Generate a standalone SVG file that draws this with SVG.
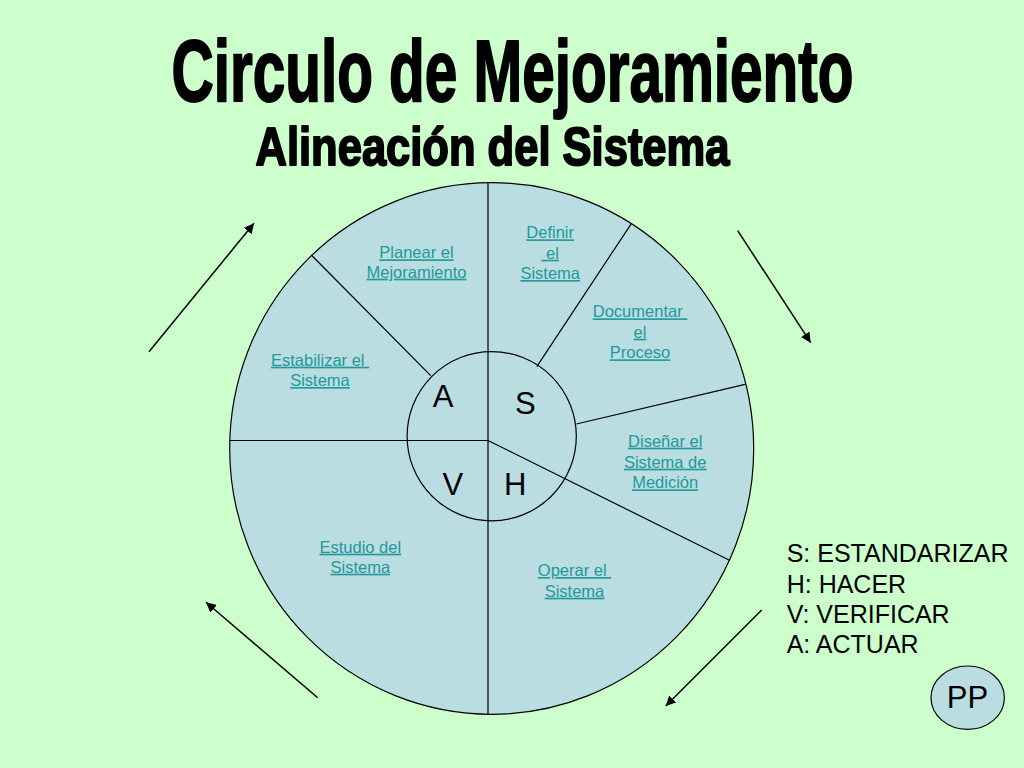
<svg xmlns="http://www.w3.org/2000/svg" width="1024" height="768" viewBox="0 0 1024 768">
<defs>
<marker id="ah" markerUnits="userSpaceOnUse" markerWidth="12" markerHeight="10" refX="10" refY="5" orient="auto">
<path d="M0,0 L10,5 L0,10 z" fill="#000"/>
</marker>
<style>
.ttl{font-family:"Liberation Sans",Arial,sans-serif;font-weight:bold;fill:#000;stroke:#000;stroke-width:2;stroke-linejoin:round}
.lbl{font-family:"Liberation Sans",Arial,sans-serif;font-size:16.5px;fill:#22999a;text-decoration:underline;text-anchor:middle}
.big{font-family:"Liberation Sans",Arial,sans-serif;font-size:31px;fill:#000;text-anchor:middle}
.leg{font-family:"Liberation Sans",Arial,sans-serif;font-size:25px;fill:#000}
.edge{stroke:#000;stroke-width:1.2;fill:none}
.arr{stroke:#000;stroke-width:1.5;fill:none;marker-end:url(#ah)}
</style>
</defs>
<rect width="1024" height="768" fill="#CCFFCC"/>
<g id="title">
<text class="ttl" transform="matrix(0.666 0 0 1 171.5 101)" x="0" y="0" font-size="88" textLength="1024" lengthAdjust="spacingAndGlyphs">Circulo de Mejoramiento</text>
<text class="ttl" transform="matrix(0.82 0 0 1 255.5 165)" x="0" y="0" font-size="53.5" textLength="578" lengthAdjust="spacingAndGlyphs">Alineación del Sistema</text>
</g>
<g id="wheel">
<ellipse cx="491.7" cy="448.5" rx="262" ry="265.8" fill="#B9DDE1" stroke="#000" stroke-width="1.2"/>
<line class="edge" x1="488" y1="182.7" x2="488" y2="714.3"/>
<line class="edge" x1="229.6" y1="440.5" x2="488" y2="440.5"/>
<line class="edge" x1="311.3" y1="255" x2="430.7" y2="375.7"/>
<line class="edge" x1="631.5" y1="223.3" x2="536.8" y2="366.7"/>
<line class="edge" x1="745.1" y1="384.3" x2="576.4" y2="424"/>
<line class="edge" x1="488" y1="440.5" x2="729" y2="560"/>
<circle cx="491.7" cy="436.2" r="84.6" fill="none" stroke="#000" stroke-width="1.2"/>
</g>
<g id="planear"><text class="lbl" x="416.5" y="258.3">Planear el</text><text class="lbl" x="416.5" y="277.7">Mejoramiento</text></g>
<g id="definir"><text class="lbl" x="550.2" y="238.3">Definir</text><text class="lbl" x="550.2" y="258.7" xml:space="preserve"> el</text><text class="lbl" x="550.2" y="279">Sistema</text></g>
<g id="documentar"><text class="lbl" x="640" y="317.3" xml:space="preserve">Documentar </text><text class="lbl" x="640" y="337.7">el</text><text class="lbl" x="640" y="358.3">Proceso</text></g>
<g id="estabilizar"><text class="lbl" x="320" y="365.7" xml:space="preserve">Estabilizar el </text><text class="lbl" x="320" y="386">Sistema</text></g>
<g id="disenar"><text class="lbl" x="665.2" y="446.7">Diseñar el</text><text class="lbl" x="665.2" y="467.7">Sistema de</text><text class="lbl" x="665.2" y="488.3">Medición</text></g>
<g id="estudio"><text class="lbl" x="360.3" y="552.7">Estudio del</text><text class="lbl" x="360.3" y="572.7">Sistema</text></g>
<g id="operar"><text class="lbl" x="574.5" y="576" xml:space="preserve">Operar el </text><text class="lbl" x="574.5" y="596.7">Sistema</text></g>
<g id="quadA"><text class="big" x="443" y="407.3">A</text></g>
<g id="quadS"><text class="big" x="525.4" y="414.3">S</text></g>
<g id="quadV"><text class="big" x="452.8" y="495">V</text></g>
<g id="quadH"><text class="big" x="515.1" y="495">H</text></g>
<g id="connectors">
<line class="arr" x1="149" y1="351.7" x2="254" y2="223.3"/>
<line class="arr" x1="737.7" y1="230.7" x2="810.7" y2="342.7"/>
<line class="arr" x1="761.7" y1="610" x2="665.7" y2="706"/>
<line class="arr" x1="317.7" y1="697.7" x2="206" y2="602.3"/>
</g>
<g id="legend">
<text class="leg" x="786.7" y="561.7">S: ESTANDARIZAR</text>
<text class="leg" x="786.7" y="592.7">H: HACER</text>
<text class="leg" x="786.7" y="622.7">V: VERIFICAR</text>
<text class="leg" x="786.7" y="653.3">A: ACTUAR</text>
</g>
<g id="pp">
<ellipse cx="967.7" cy="697.7" rx="36.7" ry="31.7" fill="#B9DDE1" stroke="#000" stroke-width="1.2"/>
<text class="big" x="967.5" y="707.5" font-size="23">PP</text>
</g>
</svg>
